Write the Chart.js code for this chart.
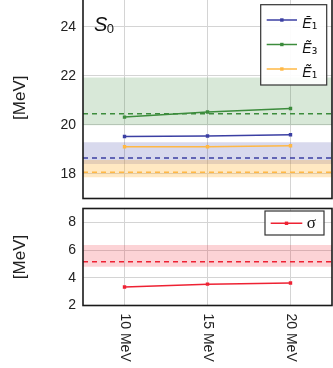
<!DOCTYPE html>
<html><head><meta charset="utf-8">
<script src="https://cdn.jsdelivr.net/npm/chart.js@4"></script>
<style>
html,body{margin:0;padding:0;background:#fff;overflow:hidden;width:333px;height:368px;}
#w1{position:absolute;left:0;top:-3px;width:333px;height:204px;}
#w2{position:absolute;left:0;top:200px;width:333px;height:168px;}
</style></head><body>
<div id="w1"><canvas id="c1"></canvas></div>
<div id="w2"><canvas id="c2"></canvas></div>
<script>
// ---- data ----
const energies = [10, 15, 20];
const xTickLabels = ['10 MeV', '15 MeV', '20 MeV'];
const topTicks = [18, 20, 22, 24];
const bottomTicks = [2, 4, 6, 8];
const seriesNames = ['Ē₁', 'Ẽ₃', 'Ẽ₁'];
const barE1 = [19.53, 19.55, 19.60];
const tildeE3 = [20.32, 20.53, 20.67];
const tildeE1 = [19.11, 19.11, 19.15];
const refMean = [18.65, 20.46, 18.07];
const refLow = [18.41, 19.99, 17.87];
const refHigh = [19.29, 21.94, 18.57];
const sigmaName = 'σ';
const sigma = [3.33, 3.54, 3.62];
const sigmaRefMean = [5.15];
const sigmaRefLow = [4.79];
const sigmaRefHigh = [6.36];
const panelLabel = ['S', '0'];
const yTitle = '[MeV]';

// ---- styles ----
const colors = ['#3b3fa3', '#3c8c3c', '#ffb845'];
const bandAlpha = [0.2, 0.2, 0.33];
const red = '#ee2233';
const X0 = 7.5, X1 = 22.5;

function rgba(hex, a) {
  const n = parseInt(hex.slice(1), 16);
  return `rgba(${(n >> 16) & 255},${(n >> 8) & 255},${n & 255},${a})`;
}
function pts(vals) { return energies.map((e, i) => ({ x: e, y: vals[i] })); }
function hline(v) { return [{ x: X0, y: v }, { x: X1, y: v }]; }

function bandSets(low, high, mean, color, alpha, ord) {
  return [
    { data: hline(low), borderWidth: 0, pointRadius: 0, fill: false, order: ord + 1 },
    { data: hline(high), borderWidth: 0, pointRadius: 0, fill: '-1', backgroundColor: rgba(color, alpha), order: ord },
    { data: hline(mean), borderWidth: 1.5, borderColor: color, borderDash: [5, 4], pointRadius: 0, fill: false, order: 5 }
  ];
}
function seriesSet(label, vals, color) {
  return { label, isSeries: true, data: pts(vals), borderColor: color, backgroundColor: color,
    borderWidth: 1.5, pointStyle: 'rect', pointRadius: 2.4, pointBorderWidth: 0,
    pointBackgroundColor: color, fill: false, tension: 0, order: 1 };
}

const frame = {
  id: 'frame',
  afterDatasetsDraw(chart) {
    const a = chart.chartArea, ctx = chart.ctx;
    ctx.save();
    ctx.strokeStyle = '#1a1a1a'; ctx.lineWidth = 1.6;
    ctx.strokeRect(a.left, a.top, a.right - a.left, a.bottom - a.top);
    ctx.restore();
  }
};

function drawLabel(ctx, text, x, y, size) {
  const main = text[0], rest = text.slice(1);
  if (main === 'σ') {
    ctx.font = `${size + 3}px "Liberation Serif"`;
    ctx.fillText(main, x, y);
    return;
  }
  ctx.font = `italic ${size}px "Liberation Sans"`;
  ctx.fillText(main, x, y);
  const w = ctx.measureText(main).width;
  ctx.font = `${size}px "DejaVu Sans"`;
  ctx.fillText(rest, x + w, y + 1);
}

function legendPlugin(cfg) {
  return {
    id: 'customLegend',
    afterDraw(chart) {
      const a = chart.chartArea, ctx = chart.ctx;
      const items = chart.data.datasets.filter(d => d.isSeries);
      const bx = a.right - cfg.right - cfg.w, by = a.top + cfg.top;
      ctx.save();
      ctx.fillStyle = 'rgba(255,255,255,0.92)';
      ctx.fillRect(bx, by, cfg.w, cfg.h);
      ctx.strokeStyle = '#333'; ctx.lineWidth = 1.2;
      ctx.strokeRect(bx, by, cfg.w, cfg.h);
      items.forEach((d, i) => {
        const y = by + cfg.first + i * cfg.rowH;
        ctx.strokeStyle = d.borderColor; ctx.lineWidth = 1.5;
        ctx.beginPath(); ctx.moveTo(bx + cfg.l0, y); ctx.lineTo(bx + cfg.l1, y); ctx.stroke();
        ctx.fillStyle = d.borderColor;
        const m = (cfg.l0 + cfg.l1) / 2;
        ctx.fillRect(bx + m - 1.7, y - 1.7, 3.4, 3.4);
        ctx.fillStyle = '#111';
        ctx.textBaseline = 'alphabetic'; ctx.textAlign = 'left';
        drawLabel(ctx, d.label, bx + cfg.tx, y + cfg.ty, cfg.font);
      });
      ctx.restore();
    }
  };
}

const panelText = {
  id: 'panelText',
  afterDraw(chart) {
    const a = chart.chartArea, ctx = chart.ctx;
    ctx.save();
    ctx.fillStyle = '#111'; ctx.textBaseline = 'alphabetic'; ctx.textAlign = 'left';
    ctx.font = 'italic 20px "Liberation Sans"';
    ctx.fillText(panelLabel[0], a.left + 11, a.top + 33.7);
    const w = ctx.measureText(panelLabel[0]).width;
    ctx.font = '13px "Liberation Sans"';
    ctx.fillText(panelLabel[1], a.left + 11 + w - 0.5, a.top + 36.3);
    ctx.restore();
  }
};

const xLabels = {
  id: 'xLabels',
  afterDraw(chart) {
    const s = chart.scales.x, a = chart.chartArea, ctx = chart.ctx;
    ctx.save();
    ctx.fillStyle = '#222';
    ctx.font = '14px "Liberation Sans"';
    ctx.textAlign = 'left'; ctx.textBaseline = 'middle';
    s.ticks.forEach((t, i) => {
      const x = s.getPixelForValue(t.value);
      ctx.save();
      ctx.translate(x, a.bottom + 8);
      ctx.rotate(Math.PI / 2);
      ctx.fillText(xTickLabels[i], 0, 0);
      ctx.restore();
    });
    ctx.restore();
  }
};

function scales(ymin, ymax, yticks) {
  return {
    x: {
      type: 'linear', min: X0, max: X1,
      afterBuildTicks: ax => { ax.ticks = energies.map(v => ({ value: v })); },
      afterFit: s => { s.height = 0; s.paddingLeft = 0; s.paddingRight = 0; },
      ticks: { display: false },
      grid: { color: '#d4d4d4', lineWidth: 1, drawTicks: false },
      border: { display: false }
    },
    y: {
      min: ymin, max: ymax,
      afterBuildTicks: ax => { ax.ticks = yticks.map(v => ({ value: v })); },
      afterFit: s => { s.width = 83; s.paddingTop = 0; s.paddingBottom = 0; },
      ticks: { padding: 7, color: '#222', font: { family: 'Liberation Sans', size: 14 } },
      grid: { color: '#d4d4d4', lineWidth: 1, drawTicks: false },
      border: { display: false },
      title: { display: true, text: yTitle, color: '#222', padding: { top: 10, bottom: 0 },
        font: { family: 'Liberation Sans', size: 17 } }
    }
  };
}

const common = {
  responsive: true, maintainAspectRatio: false, animation: false, devicePixelRatio: 1,
  events: [],
  plugins: { legend: { display: false }, tooltip: { enabled: false } }
};

// top chart
const topSets = [
  ...bandSets(refLow[0], refHigh[0], refMean[0], colors[0], bandAlpha[0], 30),
  ...bandSets(refLow[1], refHigh[1], refMean[1], colors[1], bandAlpha[1], 40),
  ...bandSets(refLow[2], refHigh[2], refMean[2], colors[2], bandAlpha[2], 20),
  seriesSet(seriesNames[0], barE1, colors[0]),
  seriesSet(seriesNames[1], tildeE3, colors[1]),
  seriesSet(seriesNames[2], tildeE1, colors[2])
];
new Chart(document.getElementById('c1'), {
  type: 'line',
  data: { datasets: topSets },
  options: Object.assign({}, common, {
    layout: { autoPadding: false, padding: { top: 0, right: 1, bottom: 2.5, left: 0 } },
    scales: scales(17, 25.22, topTicks)
  }),
  plugins: [frame, panelText,
    legendPlugin({ right: 5.3, top: 7.7, w: 66, h: 80.3, first: 15.3, rowH: 24.5, l0: 6, l1: 36.3, tx: 41.6, ty: 8, font: 14 })]
});

// bottom chart
const botSets = [
  ...bandSets(sigmaRefLow[0], sigmaRefHigh[0], sigmaRefMean[0], red, 0.2, 20),
  seriesSet(sigmaName, sigma, red)
];
new Chart(document.getElementById('c2'), {
  type: 'line',
  data: { datasets: botSets },
  options: Object.assign({}, common, {
    layout: { autoPadding: false, padding: { top: 8.5, right: 1, bottom: 62.5, left: 0 } },
    scales: scales(2, 9, bottomTicks)
  }),
  plugins: [frame, xLabels,
    legendPlugin({ right: 8, top: 2.5, w: 59, h: 24, first: 12.3, rowH: 24, l0: 5.7, l1: 37.3, tx: 41.7, ty: 5, font: 14 })]
});
</script>
</body></html>
